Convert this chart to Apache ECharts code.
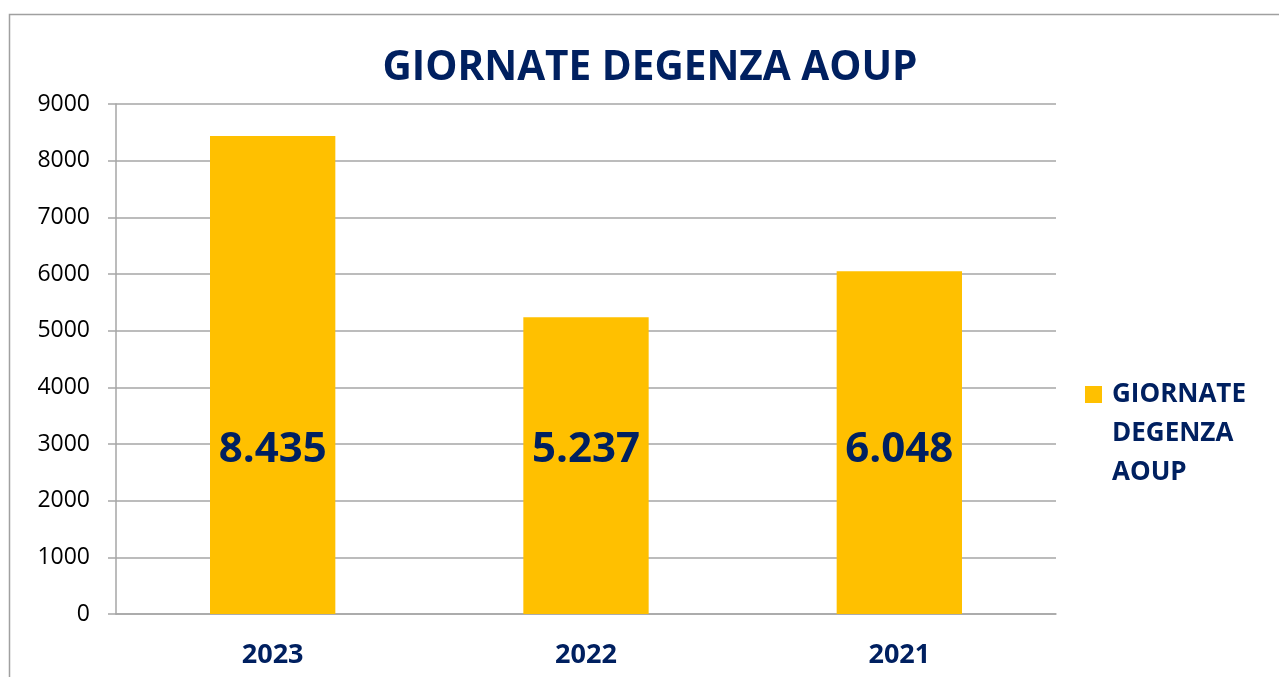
<!DOCTYPE html>
<html>
<head>
<meta charset="utf-8">
<script src="https://cdn.jsdelivr.net/npm/echarts@6/dist/echarts.min.js"></script>
<style>
  html, body { margin: 0; padding: 0; background: #fff; }
  #main { width: 1279px; height: 677px; }
</style>
</head>
<body>
<div id="main"></div>
<script>
var categories = ['2023', '2022', '2021'];
var seriesName = 'GIORNATE DEGENZA AOUP';
var values = [8435, 5237, 6048];

var navy = '#002060';
var font = 'Open Sans';

// italian thousands separator: 8435 -> 8.435
var fmt = function(v) {
    return String(v).replace(/\B(?=(\d{3})+(?!\d))/g, '.');
};

var myChart = echarts.init(document.getElementById('main'));
var option = {
    backgroundColor: '#fff',
    animation: false,
    title: {
        text: 'GIORNATE DEGENZA AOUP',
        left: 645,
        textAlign: 'center',
        top: 43,
        textStyle: { color: navy, fontFamily: font, fontWeight: 'bold', fontSize: 40.5 }
    },
    graphic: [{
        type: 'rect',
        shape: { x: 9.5, y: 14.5, width: 1300, height: 700 },
        style: { fill: 'none', stroke: '#a0a0a0', lineWidth: 1.5 },
        silent: true
    }],
    legend: {
        data: [seriesName],
        left: 1080,
        top: 292,
        icon: 'rect',
        itemWidth: 17,
        itemHeight: 17,
        // two blank lines so the marker sits beside the first line
        formatter: function() { return '\n\n{t|GIORNATE}\n{t|DEGENZA}\n{t|AOUP}'; },
        textStyle: {
            color: navy, fontFamily: font, fontWeight: 'bold', fontSize: 26,
            lineHeight: 39,
            rich: {
                t: {
                    color: navy, fontFamily: font, fontWeight: 'bold', fontSize: 26,
                    lineHeight: 39, padding: [0, 0, 0, 5]
                }
            }
        }
    },
    grid: { left: 116, right: 223, top: 104, bottom: 63 },
    xAxis: {
        type: 'category',
        data: categories,
        axisLine: { lineStyle: { color: '#a6a6a6', width: 1.5 } },
        axisTick: { length: 7, lineStyle: { color: '#a6a6a6', width: 1.5 } },
        axisLabel: { color: navy, fontFamily: font, fontWeight: 'bold', fontSize: 27, margin: 28 }
    },
    yAxis: {
        type: 'value',
        min: 0,
        max: 9000,
        interval: 1000,
        axisLine: { show: true, lineStyle: { color: '#a6a6a6', width: 1.5 } },
        axisTick: { show: true, length: 8, lineStyle: { color: '#a6a6a6', width: 1.5 } },
        splitLine: { lineStyle: { color: '#a6a6a6', width: 1.5 } },
        axisLabel: {
            color: '#000', fontFamily: font, fontSize: 23, margin: 26,
            formatter: function(v) { return String(v); }
        }
    },
    series: [{
        name: seriesName,
        type: 'bar',
        barWidth: '40%',
        data: values,
        itemStyle: { color: '#FFC000' },
        label: {
            show: true,
            position: 'insideBottom',
            distance: 143,
            formatter: function(p) { return fmt(p.value); },
            color: navy,
            fontFamily: font,
            fontWeight: 'bold',
            fontSize: 42
        }
    }]
};
myChart.setOption(option);
</script>
</body>
</html>
